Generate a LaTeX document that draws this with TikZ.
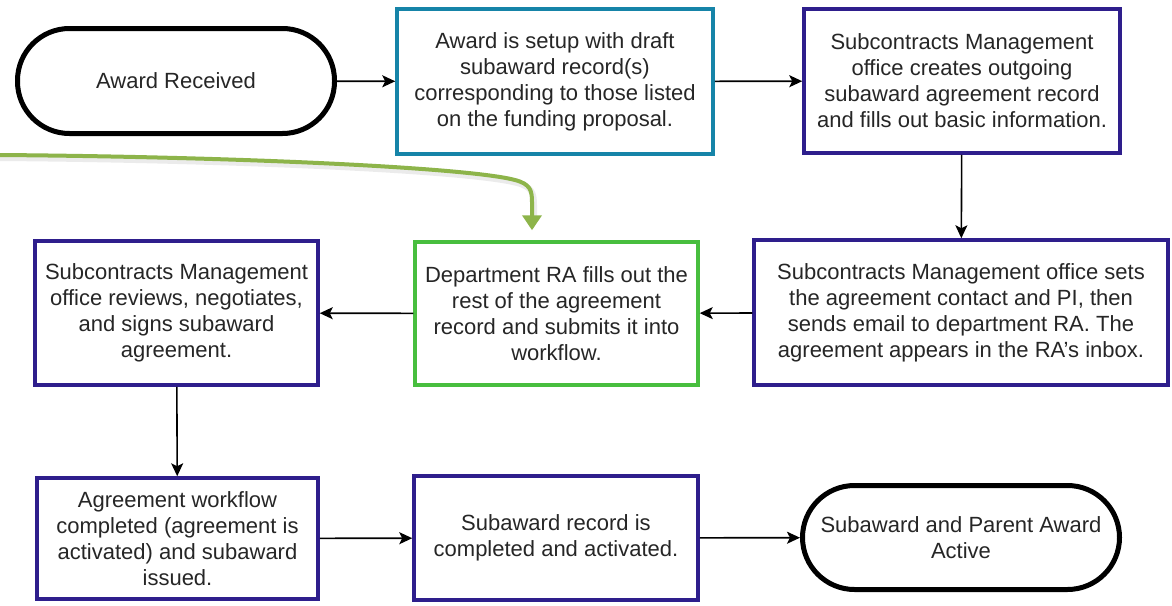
\documentclass[tikz,border=0pt]{standalone}
\usepackage{fontspec}
\setmainfont{Liberation Sans}
\usetikzlibrary{arrows.meta}

\definecolor{boxpurple}{RGB}{46,30,140}
\definecolor{boxblue}{RGB}{22,132,168}
\definecolor{boxgreen}{RGB}{72,190,62}
\definecolor{linkgreen}{RGB}{141,180,74}

\begin{document}
\begin{tikzpicture}[x=1pt,y=-1pt,
  every node/.style={font=\fontsize{22}{26}\selectfont, text=black!85, align=center, inner sep=0pt},
  procbox/.style={draw=boxpurple, line width=3.5pt, fill=white},
  terminal/.style={draw=black, line width=5pt, fill=white, rounded corners=52pt},
  flow/.style={line width=1.6pt, -{Stealth[length=13pt,width=12pt,inset=3pt]}},
]
\fill[white] (0,0) rectangle (1172,605);
\useasboundingbox (0,0) rectangle (1172,605);

% top row
\node[terminal, minimum width=317pt, minimum height=105pt] (received) at (176,81) {Award Received};
\node[procbox, draw=boxblue, minimum width=316pt, minimum height=145pt] (setup) at (555,81.5)
  {Award is setup with draft\\subaward record(s)\\corresponding to those listed\\on the funding proposal.};
\node[procbox, minimum width=316pt, minimum height=144pt] (creates) at (962,81)
  {Subcontracts Management\\office creates outgoing\\subaward agreement record\\and fills out basic information.};

% middle row
\node[procbox, minimum width=414pt, minimum height=145pt] (sets) at (961,312.5)
  {Subcontracts Management office sets\\the agreement contact and PI, then\\sends email to department RA. The\\agreement appears in the RA's inbox.};
\node[procbox, draw=boxgreen, minimum width=283pt, minimum height=143pt] (dept) at (556.5,313.5)
  {Department RA fills out the\\rest of the agreement\\record and submits it into\\workflow.};
\node[procbox, minimum width=283pt, minimum height=144pt] (reviews) at (176.5,313)
  {Subcontracts Management\\office reviews, negotiates,\\and signs subaward\\agreement.};

% bottom row
\node[procbox, minimum width=281pt, minimum height=121pt] (issued) at (177.5,538.5)
  {Agreement workflow\\completed (agreement is\\activated) and subaward\\issued.};
\node[procbox, minimum width=284pt, minimum height=124pt] (record) at (556,538)
  {Subaward record is\\completed and activated.};
\node[terminal, minimum width=317pt, minimum height=104pt] (active) at (961,537.5)
  {Subaward and Parent Award\\Active};

% flow connectors
\draw[flow] (received) -- (setup);
\draw[flow] (setup) -- (creates);
\draw[flow] (creates) -- (sets);
\draw[flow] (sets) -- (dept);
\draw[flow] (dept) -- (reviews);
\draw[flow] (reviews) -- (issued);
\draw[flow] (issued) -- (record);
\draw[flow] (record) -- (active);

% green link into the department step, with a soft shadow
\coordinate (linkstart) at (0,155);
\draw[line width=6pt, black, opacity=0.08, line cap=round]
  (0,158) .. controls (250,160) and (472,171) .. (517,183)
  .. controls (532,187) and (534,193) .. (534,205) -- (534,220);
\draw[line width=4pt, linkgreen, -{Triangle[length=15pt,width=19pt]}]
  (linkstart) .. controls (250,157) and (470,168) .. (515,180)
  .. controls (530,184) and (532,190) .. (532,202)
  -- ([xshift=-24.5pt,yshift=10pt]dept.north);
\end{tikzpicture}
\end{document}
